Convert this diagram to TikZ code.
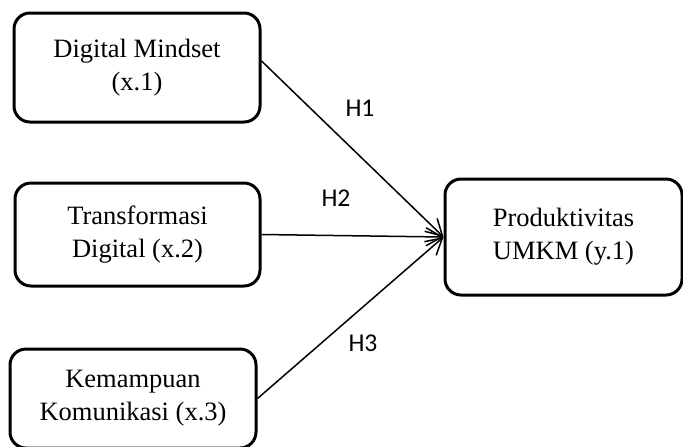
\documentclass[tikz,border=0pt]{standalone}
\usepackage{fontspec}
\setmainfont{Liberation Serif}
\newfontfamily\labelfont{Carlito}
\usetikzlibrary{arrows.meta}
\tikzset{
  varbox/.style={draw, line width=1.5pt, rounded corners=8pt, align=center,
    font=\fontsize{13.25}{16.5}\selectfont, inner sep=0pt},
  hyparrow/.style={line width=0.75pt, -{Straight Barb[length=8pt,width=9pt,line width=0.75pt]}},
  hlabel/.style={font=\labelfont\fontsize{12.8}{15}\selectfont, inner sep=0pt}
}
\begin{document}
\begin{tikzpicture}[x=0.5pt,y=-0.5pt]
\useasboundingbox (0,0) rectangle (683,446);
\node[varbox, minimum width=123pt, minimum height=54.5pt] (b1) at (137,67.5) {Digital Mindset\\(x.1)};
\node[varbox, minimum width=122.5pt, minimum height=51.5pt] (b2) at (137.5,234.5) {Transformasi\\Digital (x.2)};
\node[varbox, minimum width=123pt, minimum height=49.5pt] (b3) at (133,398.5) {Kemampuan\\Komunikasi (x.3)};
\node[varbox, minimum width=118.5pt, minimum height=58pt] (b4) at (563.5,237) {Produktivitas\\UMKM (y.1)};
\draw[hyparrow] (b1.3) -- (b4.west);
\draw[hyparrow] (b2.east) -- (b4.west);
\draw[hyparrow] (b3.east) -- (b4.west);
\node[hlabel] (h1) at (360,108) {H1};
\node[hlabel] (h2) at (336,198) {H2};
\node[hlabel] (h3) at (363,343) {H3};
\end{tikzpicture}
\end{document}
